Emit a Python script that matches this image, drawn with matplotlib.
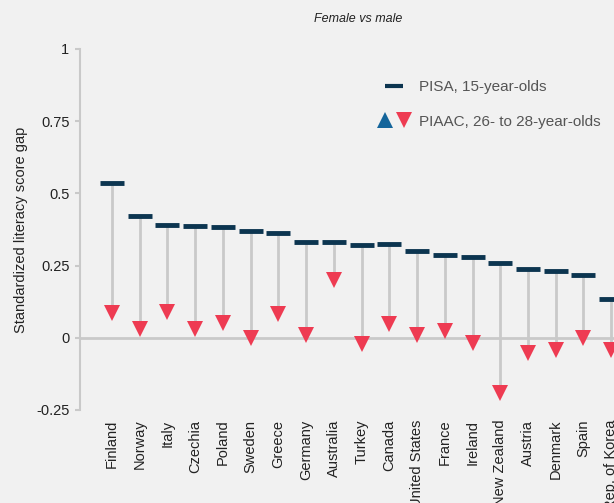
import matplotlib
matplotlib.use("Agg")
import matplotlib.pyplot as plt
from matplotlib.lines import Line2D
from matplotlib.legend_handler import HandlerTuple

plt.rcParams["font.family"] = ["Liberation Sans", "DejaVu Sans"]

countries = ["Finland", "Norway", "Italy", "Czechia", "Poland", "Sweden", "Greece",
             "Germany", "Australia", "Turkey", "Canada", "United States", "France",
             "Ireland", "New Zealand", "Austria", "Denmark", "Spain", "Rep. of Korea"]
pisa = [0.537, 0.421, 0.390, 0.388, 0.383, 0.369, 0.362, 0.330, 0.330, 0.320,
        0.324, 0.299, 0.286, 0.280, 0.258, 0.238, 0.232, 0.216, 0.134]
piaac = [0.084, 0.029, 0.089, 0.031, 0.051, 0.000, 0.081, 0.009, 0.199, -0.022,
         0.049, 0.009, 0.024, -0.018, -0.190, -0.053, -0.042, -0.001, -0.042]

bg = "#f1f1f1"
grey = "#c9c9c9"
navy = "#0c3550"
red = "#ee3b52"
blue = "#14659b"
text_c = "#222222"

fig = plt.figure(figsize=(6.14, 5.03), dpi=100, facecolor=bg)
ax = fig.add_axes([0.1303, 0.185, 0.8697, 0.7176], facecolor=bg)

x = list(range(len(countries)))
ax.axhline(0, color=grey, lw=2, zorder=1)
ax.vlines(x, piaac, pisa, color=grey, lw=2, zorder=2)
ax.plot(x, pisa, ls="none", marker="_", ms=17, mew=3.5, color=navy, zorder=3)
ax.plot(x, piaac, ls="none", marker="v", ms=11, mew=0, color=red, zorder=4)

ax.set_xlim(-1.15, 18.1)
ax.set_ylim(-0.25, 1)
ax.set_yticks([-0.25, 0, 0.25, 0.5, 0.75, 1])
ax.set_yticklabels(["-0.25", "0", "0.25", "0.5", "0.75", "1"])
ax.set_xticks(x)
ax.set_xticklabels(countries, rotation=90, fontsize=10.5, color=text_c)
ax.tick_params(axis="x", length=0, pad=7)
ax.tick_params(axis="y", length=3.6, width=1.5, color=grey, labelsize=10.5,
               labelcolor=text_c, pad=4)
for side in ["top", "right", "bottom"]:
    ax.spines[side].set_visible(False)
ax.spines["left"].set_color(grey)
ax.spines["left"].set_linewidth(1.5)

ax.set_ylabel("Standardized literacy score gap", fontsize=10.5, color=text_c)
ax.yaxis.set_label_coords(-0.097, 0.5)
fig.text(358 / 614, 1 - 19 / 503, "Female vs male", ha="center", va="center",
         fontsize=9, style="italic", color="#222222")

h_pisa = Line2D([], [], ls="none", marker="_", ms=12.5, mew=3, color=navy)
h_up = Line2D([], [], ls="none", marker="^", ms=11, mew=0, color=blue)
h_down = Line2D([], [], ls="none", marker="v", ms=11, mew=0, color=red)
ax.legend([h_pisa, (h_up, h_down)], ["PISA, 15-year-olds", "PIAAC, 26- to 28-year-olds"],
          handler_map={tuple: HandlerTuple(ndivide=None, pad=0.3)},
          loc="upper right", bbox_to_anchor=(1.0, 0.952), frameon=False,
          fontsize=11, labelcolor="#555555", handlelength=2.2, handletextpad=0.5,
          labelspacing=1.36, markerfirst=True)

fig.savefig("out.png", dpi=100, facecolor=bg)
